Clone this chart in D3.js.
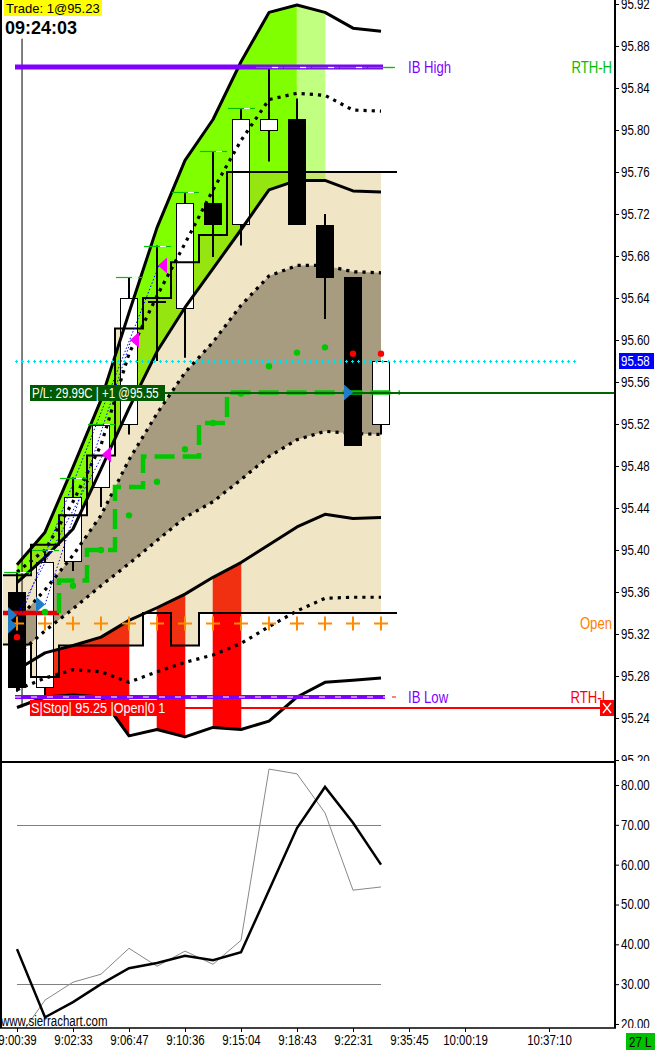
<!DOCTYPE html>
<html><head><meta charset="utf-8">
<script src="https://cdn.jsdelivr.net/npm/d3@7"></script>
<style>
body{margin:0;background:#fff;}
svg{display:block;}
text{font-family:"Liberation Sans",Arial,sans-serif;}
</style></head><body>
<svg id="c" width="656" height="1050"></svg>
<script>
// ---------- DATA ----------
const open  = [95.36, 95.27, 95.389, 95.46, 95.52, 95.637, 95.63, 95.73, 95.71, 95.80, 95.81, 95.71, 95.66, 95.52];
const high  = [95.379, 95.40, 95.469, 95.52, 95.66, 95.69, 95.741, 95.78, 95.821, 95.86, 95.83, 95.72, 95.66, 95.58];
const low   = [95.265, 95.262, 95.38, 95.441, 95.51, 95.58, 95.583, 95.679, 95.69, 95.77, 95.71, 95.62, 95.50, 95.51];
const close = [95.27, 95.389, 95.45, 95.519, 95.64, 95.637, 95.73, 95.71, 95.81, 95.81, 95.71, 95.66, 95.50, 95.58];

const bandA  = [95.386, 95.417, 95.479, 95.543, 95.626, 95.707, 95.771, 95.810, 95.865, 95.912, 95.919, 95.912, 95.897, 95.894];
const bandU1 = [95.379, 95.400, 95.446, 95.500, 95.587, 95.642, 95.692, 95.743, 95.790, 95.829, 95.835, 95.833, 95.819, 95.818];
const bandB  = [95.369, 95.393, 95.420, 95.477, 95.535, 95.589, 95.631, 95.668, 95.705, 95.743, 95.752, 95.752, 95.742, 95.741];
const bandU2 = [95.333, 95.362, 95.395, 95.433, 95.486, 95.530, 95.569, 95.598, 95.633, 95.661, 95.671, 95.671, 95.665, 95.664];
const bandL2 = [95.300, 95.323, 95.344, 95.366, 95.387, 95.409, 95.431, 95.446, 95.467, 95.489, 95.505, 95.513, 95.511, 95.510];
const bandD  = [95.286, 95.302, 95.309, 95.317, 95.333, 95.345, 95.358, 95.374, 95.388, 95.405, 95.422, 95.434, 95.430, 95.431];
const bandL1 = [95.267, 95.278, 95.286, 95.284, 95.274, 95.284, 95.293, 95.300, 95.311, 95.327, 95.342, 95.354, 95.355, 95.355];
const bandE  = [95.250, 95.260, 95.262, 95.260, 95.223, 95.229, 95.222, 95.231, 95.229, 95.237, 95.260, 95.274, 95.276, 95.278];
const midline = [95.317, 95.341, 95.366, 95.400, 95.433, 95.465, 95.496, 95.521, 95.549, 95.575, 95.588, 95.593, 95.587, 95.587];

const upperFill = ["g","g","g","g","g","g","g","g","g","g","l",null,null];
const lowerFill = [null,"r","r","r",null,"r",null,"r",null,null,null,null,null];

const stepUpper = [95.376, 95.405, 95.433, 95.490, 95.611, 95.640, 95.674, 95.700, 95.760, 95.760, 95.760, 95.760, 95.760, 95.760];
const stepLower = [95.310, 95.279, 95.309, 95.309, 95.309, 95.340, 95.309, 95.340, 95.340, 95.340, 95.340, 95.340, 95.340, 95.340];
const trailStop = [95.34, 95.34, 95.371, 95.40, 95.46, 95.489, 95.489, 95.521, 95.55, 95.55, 95.55, 95.55, 95.55, 95.55];
const trailLong = [false, false, true, true, true, true, true, true, true, true, true, true, true, true];

const buyBars = [0, 0, 1, 12];
const buyPrices = [95.338, 95.328, 95.348, 95.55];
const sellBars = [3, 4, 5];
const sellPrices = [95.491, 95.60, 95.671];
const tradeFrom = [0, 1, 0];
const tradeTo = [3, 4, 5];
const tradeFromPrice = [95.338, 95.348, 95.328];

const osc1 = [38.8, 21.7, 25.5, 30, 34, 35.3, 37.1, 36, 38, 53.6, 69.2, 79.5, 70.5, 60];
const osc2 = [16, 26, 30.5, 32.5, 39, 34.5, 38.3, 35, 41, 84, 82.8, 73, 53.6, 54.4];
const oscLevels = [70, 30];

const priceTicks = [95.92,95.88,95.84,95.80,95.76,95.72,95.68,95.64,95.60,95.56,95.52,95.48,95.44,95.40,95.36,95.32,95.28,95.24,95.20];
const oscTicks = [80,70,60,50,40,30,20];
const timeLabels = ["9:00:39","9:02:33","9:06:47","9:10:36","9:15:04","9:18:43","9:22:31","9:35:45","10:00:19","10:37:10"];
const timeLabelBars = [0,2,4,6,8,10,12,14,16,19];

const ibHigh = 95.86, ibLow = 95.26, stopPrice = 95.25, openPrice = 95.33, entryPrice = 95.55, lastPrice = 95.58;

// ---------- HELPERS ----------
function narrow(sel, f){
  f = f || 0.82;
  sel.each(function(){
    const w = this.getComputedTextLength();
    this.setAttribute("textLength", (w*f).toFixed(2));
    this.setAttribute("lengthAdjust","spacingAndGlyphs");
  });
  return sel;
}

// ---------- SCALES ----------
const svg = d3.select("#c");
const x = d3.scaleLinear().domain([0,1]).range([17,45]);
const y = d3.scaleLinear().domain([95.20,95.92]).range([760,4]);
const yo = d3.scaleLinear().domain([20,80]).range([1024,785]);
const AX = 615, MB = 762, OT = 763, OB = 1028;
const bars = d3.range(open.length);
const N = bars.length;

const defs = svg.append("defs");
defs.append("clipPath").attr("id","cpMain").append("rect").attr("x",2).attr("y",0).attr("width",AX-2).attr("height",MB);
defs.append("clipPath").attr("id","cpFill").append("rect").attr("x",0).attr("y",0).attr("width",x(N-1)).attr("height",MB);
defs.append("clipPath").attr("id","cpOsc").append("rect").attr("x",2).attr("y",OT).attr("width",AX-2).attr("height",OB-OT);
defs.append("clipPath").attr("id","cpAxMain").append("rect").attr("x",AX).attr("y",0).attr("width",41).attr("height",MB-1);
defs.append("clipPath").attr("id","cpAxOsc").append("rect").attr("x",AX).attr("y",OT).attr("width",41).attr("height",OB-OT);

const main = svg.append("g").attr("clip-path","url(#cpMain)");

function bandArea(top, bot, i0, i1){
  return d3.area().x(i=>x(i)).y0(i=>y(bot[i])).y1(i=>y(top[i]))(d3.range(i0,i1+1));
}
// green fills
upperFill.forEach((f,i)=>{ if(f) main.append("path").attr("d",bandArea(bandA,bandB,i,i+1))
  .attr("fill", f==="g" ? "#80FF00" : "#C0FF80").attr("stroke", f==="g" ? "#80FF00" : "#C0FF80").attr("stroke-width",0.6); });
// red fills
lowerFill.forEach((f,i)=>{ if(f) main.append("path").attr("d",bandArea(bandD,bandE,i,i+1))
  .attr("fill","#FF0000").attr("stroke","#FF0000").attr("stroke-width",0.6); });

// beige step band (translucent)
const stepPts = [];
bars.forEach(i=>{ stepPts.push({x:x(i-0.5),u:stepUpper[i],l:stepLower[i]}); stepPts.push({x:x(i+0.5),u:stepUpper[i],l:stepLower[i]}); });
main.append("g").attr("clip-path","url(#cpFill)").append("path")
  .attr("d", d3.area().x(d=>d.x).y0(d=>y(d.l)).y1(d=>y(d.u))(stepPts))
  .attr("fill","rgb(203,168,57)").attr("fill-opacity",0.285);
// taupe inner band
main.append("path").attr("d",bandArea(bandU2,bandL2,0,N-1)).attr("fill","#A89C80");

// candles
const cg = main.append("g");
bars.forEach(i=>{
  cg.append("line").attr("x1",x(i)).attr("x2",x(i)).attr("y1",y(high[i])).attr("y2",y(low[i]))
    .attr("stroke","#000").attr("stroke-width",2);
  const top = y(Math.max(open[i],close[i])), bot = y(Math.min(open[i],close[i]));
  cg.append("rect").attr("x",Math.round(x(i))-8.5).attr("y",Math.round(top)+0.5).attr("width",17)
    .attr("height",Math.max(1,Math.round(bot-top)))
    .attr("fill", close[i]>=open[i] ? "#fff" : "#000").attr("stroke","#000").attr("stroke-width",1);
});

// band lines
const bline = arr => d3.line().x(i=>x(i)).y(i=>y(arr[i]))(bars);
[bandA,bandB,bandD,bandE].forEach(a=>main.append("path").attr("d",bline(a)).attr("fill","none")
  .attr("stroke","#000").attr("stroke-width",3).attr("stroke-linejoin","round"));
[bandU1,bandU2,bandL2,bandL1].forEach(a=>main.append("path").attr("d",bline(a)).attr("fill","none")
  .attr("stroke","#000").attr("stroke-width",3.2).attr("stroke-dasharray","3.2 5"));

// step lines
const upPts = stepPts.map(d=>[d.x, y(d.u)]); upPts[upPts.length-1][0] = x(N-1)+16;
const loPts = stepPts.map(d=>[d.x, y(d.l)]); loPts[loPts.length-1][0] = x(N-1)+16;
main.append("path").attr("d",d3.line()(upPts)).attr("fill","none").attr("stroke","#000").attr("stroke-width",2);
main.append("path").attr("d",d3.line()(loPts)).attr("fill","none").attr("stroke","#000").attr("stroke-width",2);

// vertical cursor line
main.append("line").attr("x1",x(0.18)).attr("x2",x(0.18)).attr("y1",y(95.887)).attr("y2",y(95.25))
  .attr("stroke","#000").attr("stroke-width",1);

// IB High
main.append("line").attr("x1",15).attr("x2",x(N-1)+2).attr("y1",y(ibHigh)).attr("y2",y(ibHigh))
  .attr("stroke","#8000FF").attr("stroke-width",5);
// IB Low
main.append("line").attr("x1",15).attr("x2",x(N-1)+4).attr("y1",y(ibLow)).attr("y2",y(ibLow))
  .attr("stroke","#8000FF").attr("stroke-width",4);
main.append("line").attr("x1",15).attr("x2",x(N-1)+4).attr("y1",y(ibLow)).attr("y2",y(ibLow))
  .attr("stroke","#fff").attr("stroke-width",1).attr("stroke-dasharray","6 10");
main.append("line").attr("x1",x(N-1)+11).attr("x2",x(N-1)+15).attr("y1",y(ibLow)).attr("y2",y(ibLow))
  .attr("stroke","#FF0000").attr("stroke-width",1);

// running high markers
let rh = -Infinity;
bars.forEach(i=>{
  rh = Math.max(rh, high[i]);
  const yy = Math.round(y(rh))+0.5;
  main.append("line").attr("x1",x(i)-13).attr("x2",x(i)+14).attr("y1",yy).attr("y2",yy).attr("stroke","#00C000").attr("stroke-width",1.2);
  main.append("line").attr("x1",x(i)+3).attr("x2",x(i)+9).attr("y1",yy).attr("y2",yy).attr("stroke","#fff").attr("stroke-width",1.2);
});
main.append("line").attr("x1",x(N-1)+2).attr("x2",x(N-1)+12).attr("y1",Math.round(y(ibHigh))+0.5).attr("y2",Math.round(y(ibHigh))+0.5).attr("stroke","#00C000").attr("stroke-width",1.2);

// trailing stop (red / green dashed)
const tsPts = [];
bars.forEach(i=>{ tsPts.push({x:x(i-0.5),v:trailStop[i],l:trailLong[i]}); tsPts.push({x:x(i+0.5),v:trailStop[i],l:trailLong[i]}); });
const redPts = tsPts.filter(d=>!d.l).map(d=>[d.x,y(d.v)]);
const firstLong = trailLong.indexOf(true);
const grnPts = [[x(firstLong-0.5), y(trailStop[firstLong-1])]].concat(tsPts.filter(d=>d.l).map(d=>[d.x,y(d.v)]));
grnPts[grnPts.length-1][0] = x(N-1)+19;
main.append("path").attr("d",d3.line()(redPts)).attr("fill","none").attr("stroke","#E00000").attr("stroke-width",4.5);
main.append("path").attr("d",d3.line()(grnPts)).attr("fill","none").attr("stroke","#00C800").attr("stroke-width",4.5)
  .attr("stroke-dasharray","20 8");

// trade lines (blue dotted)
tradeFrom.forEach((b,k)=>{
  main.append("line").attr("x1",x(b)).attr("y1",y(tradeFromPrice[k])).attr("x2",x(tradeTo[k])+2).attr("y2",y(sellPrices[k]))
    .attr("stroke","#0000FF").attr("stroke-width",1).attr("stroke-dasharray","1.5 2");
});

// midline dots
midline.forEach((v,i)=>{
  const up = i>0 && v>midline[i-1];
  main.append("circle").attr("cx",x(i)).attr("cy",y(v)).attr("r",3.2).attr("fill", up ? "#00C800" : "#FF0000");
});

// open level pluses
bars.forEach(i=>{
  const cx = x(i), cy = y(openPrice);
  main.append("path").attr("d",`M${cx-7},${cy}H${cx+7}M${cx},${cy-7}V${cy+7}`).attr("stroke","#FF8C00").attr("stroke-width",2);
});

// cyan last price dotted
const yl = Math.round(y(lastPrice));
main.append("line").attr("x1",15).attr("x2",576).attr("y1",yl+0.5).attr("y2",yl+0.5)
  .attr("stroke","#00E0E8").attr("stroke-width",1).attr("stroke-dasharray","3 3");
main.append("line").attr("x1",16).attr("x2",576).attr("y1",yl+0.5).attr("y2",yl+0.5)
  .attr("stroke","#00E0E8").attr("stroke-width",3).attr("stroke-dasharray","1 5");

// P/L line
const ye = Math.round(y(entryPrice));
main.append("line").attr("x1",160).attr("x2",AX).attr("y1",ye).attr("y2",ye).attr("stroke","#006400").attr("stroke-width",2);

// buy triangles
buyBars.forEach((b,k)=>{
  const tx = x(b), ty = y(buyPrices[k]);
  main.append("path").attr("d",`M${tx-9},${ty-8}L${tx},${ty}L${tx-9},${ty+8}Z`).attr("fill","#1E7CC8");
});
// sell triangles
sellBars.forEach((b,k)=>{
  const tx = x(b)+1, ty = y(sellPrices[k]);
  main.append("path").attr("d",`M${tx+9},${ty-8}L${tx},${ty}L${tx+9},${ty+8}Z`).attr("fill","#FF00FF");
});

// stop line
const ys = Math.round(y(stopPrice));
main.append("line").attr("x1",30).attr("x2",600).attr("y1",ys).attr("y2",ys).attr("stroke","#FF0000").attr("stroke-width",2);

// right side labels
const lab = (t,xx,yy,col,sz,anchor)=>narrow(main.append("text").attr("x",xx).attr("y",yy).attr("dy","0.35em")
  .attr("fill",col).attr("font-size",sz).attr("text-anchor",anchor||"start").text(t));
lab("IB High",408,y(ibHigh),"#8000FF",16);
lab("IB Low",408,y(ibLow),"#8000FF",16);
lab("RTH-H",612,y(ibHigh),"#00C000",16,"end");
lab("RTH-L",609,y(ibLow),"#FF0000",16,"end");
lab("Open",612,y(openPrice),"#FF8000",16,"end");

// stop X box
main.append("rect").attr("x",600).attr("y",ys-8).attr("width",14).attr("height",16).attr("fill","#FF0000");
main.append("path").attr("d",`M${603},${ys-5}L${611},${ys+5}M${611},${ys-5}L${603},${ys+5}`).attr("stroke","#fff").attr("stroke-width",1.3);

// label boxes
main.append("rect").attr("x",30).attr("y",ye-8).attr("width",135).attr("height",16).attr("fill","#005A00");
narrow(main.append("text").attr("x",32).attr("y",ye).attr("dy","0.36em").attr("fill","#fff").attr("font-size",14).text("P/L: 29.99C | +1 @95.55"));
main.append("rect").attr("x",30).attr("y",ys-8).attr("width",138).attr("height",16).attr("fill","#FF0000");
narrow(main.append("text").attr("x",31).attr("y",ys).attr("dy","0.36em").attr("fill","#fff").attr("font-size",14).text("S|Stop| 95.25 |Open|0  1"), 0.9);

// top-left texts
svg.append("rect").attr("x",4).attr("y",0).attr("width",98).attr("height",16).attr("fill","#FFFF00");
svg.append("text").attr("x",6).attr("y",13).attr("font-size",13).text("Trade: 1@95.23");
svg.append("text").attr("x",5).attr("y",34).attr("font-size",18).attr("font-weight","bold").attr("font-family","DejaVu Sans, sans-serif").text("09:24:03");

// ---------- OSCILLATOR PANEL ----------
const og = svg.append("g").attr("clip-path","url(#cpOsc)");
oscLevels.forEach(v=>og.append("line").attr("x1",x(0)).attr("x2",x(N-1)).attr("y1",Math.round(yo(v))+0.5).attr("y2",Math.round(yo(v))+0.5)
  .attr("stroke","#808080").attr("stroke-width",1));
og.append("path").attr("d",d3.line().x(i=>x(i)).y(i=>yo(osc2[i]))(bars)).attr("fill","none").attr("stroke","#888").attr("stroke-width",1);
og.append("path").attr("d",d3.line().x(i=>x(i)).y(i=>yo(osc1[i]))(bars)).attr("fill","none").attr("stroke","#000").attr("stroke-width",2.5);
narrow(svg.append("text").attr("x",1).attr("y",1026).attr("font-size",14).text("www.sierrachart.com"));

// ---------- AXES / FRAME ----------
const axMain = svg.append("g").attr("clip-path","url(#cpAxMain)").append("g").attr("transform",`translate(${AX},0)`)
  .call(d3.axisRight(y).tickValues(priceTicks).tickFormat(d3.format(".2f")).tickSize(4).tickPadding(2));
const axOsc = svg.append("g").attr("clip-path","url(#cpAxOsc)").append("g").attr("transform",`translate(${AX},0)`)
  .call(d3.axisRight(yo).tickValues(oscTicks).tickFormat(d3.format(".2f")).tickSize(4).tickPadding(2));
const axTime = svg.append("g").attr("transform",`translate(0,${OB})`)
  .call(d3.axisBottom(x).tickValues(timeLabelBars).tickFormat((d,i)=>timeLabels[i]).tickSize(4).tickPadding(3));
[axMain,axOsc,axTime].forEach(g=>{
  g.select(".domain").remove();
  g.selectAll("text").attr("font-size",14).attr("fill","#000").attr("font-family","Liberation Sans, Arial, sans-serif");
  narrow(g.selectAll("text"));
  g.selectAll(".tick line").attr("stroke","#000");
});

// last price box on axis
svg.append("rect").attr("x",AX+4).attr("y",y(lastPrice)-8).attr("width",35).attr("height",16).attr("fill","#0000FF");
narrow(svg.append("text").attr("x",AX+6).attr("y",y(lastPrice)).attr("dy","0.35em").attr("fill","#fff").attr("font-size",14).text(d3.format(".2f")(lastPrice)));

// frame
svg.append("line").attr("x1",AX).attr("x2",AX).attr("y1",0).attr("y2",OB).attr("stroke","#000").attr("stroke-width",2);
svg.append("line").attr("x1",1).attr("x2",1).attr("y1",0).attr("y2",OB).attr("stroke","#000").attr("stroke-width",2);
svg.append("line").attr("x1",0).attr("x2",AX).attr("y1",MB).attr("y2",MB).attr("stroke","#000").attr("stroke-width",2);
svg.append("line").attr("x1",0).attr("x2",AX+1).attr("y1",OB).attr("y2",OB).attr("stroke","#000").attr("stroke-width",1.5);

// 27 L box
svg.append("rect").attr("x",626).attr("y",1033).attr("width",29).attr("height",17).attr("fill","#00C000");
narrow(svg.append("text").attr("x",629).attr("y",1041.5).attr("dy","0.36em").attr("font-size",14).attr("fill","#000").text("27 L"));
</script>
</body></html>
